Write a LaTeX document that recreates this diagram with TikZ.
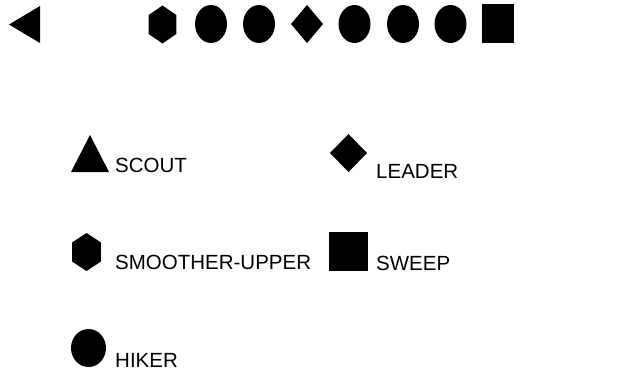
\documentclass[tikz,border=0pt]{standalone}
\usepackage{fontspec}
\setmainfont{Liberation Sans}
\usetikzlibrary{shapes.geometric,positioning}
\tikzset{
  mk/.style    ={fill=black, draw=none, inner sep=0pt, outer sep=0pt},
  mkcirc/.style={mk, ellipse, minimum width=32pt, minimum height=38pt},
  mkhex/.style ={mk, regular polygon, regular polygon sides=6,
                 shape border rotate=30, minimum size=38pt},
  mkdiam/.style={mk, diamond, minimum width=32pt, minimum height=38pt},
  mksq/.style  ={mk, rectangle, minimum width=32pt, minimum height=39pt},
  mktri/.style ={mk, isosceles triangle, isosceles triangle stretches,
                 anchor=apex},
  lbl/.style   ={font=\fontsize{20.5}{24}\selectfont, inner sep=0pt,
                 anchor=base west},
}
\begin{document}
\begin{tikzpicture}[x=1pt, y=-1pt]
  \useasboundingbox (0,0) rectangle (628,373);
  % top row
  \node[mktri, shape border rotate=180, minimum width=37pt, minimum height=31pt]
    (lead) at (9,24.5) {};
  \node[mkhex, xscale=0.84] (r1) at (162.5,24.5) {};
  \foreach \n/\x in {r2/211, r3/259, r5/354.5, r6/403, r7/450.5} {
    \node[mkcirc] (\n) at (\x,24) {};
  }
  \node[mkdiam] (r4) at (307,24) {};
  \node[mksq] (r8) at (498,23.5) {};
  % legend
  \node[mktri, shape border rotate=90, minimum width=38pt, minimum height=37pt]
    (kscout) at (90,135) {};
  \node[lbl] (tscout) at (115,172) {SCOUT};
  \node[mkdiam, minimum width=37pt, minimum height=38pt] (klead) at (348.5,153) {};
  \node[lbl] (tlead) at (376,178) {LEADER};
  \node[mkhex, xscale=0.88] (ksmooth) at (86.5,252) {};
  \node[lbl] (tsmooth) at (115,269) {SMOOTHER-UPPER};
  \node[mksq, minimum width=39pt] (ksweep) at (348.5,251.5) {};
  \node[lbl] (tsweep) at (376,270) {SWEEP};
  \node[mkcirc, minimum width=35pt] (khike) at (88.5,348) {};
  \node[lbl] (thike) at (115,367) {HIKER};
\end{tikzpicture}
\end{document}
